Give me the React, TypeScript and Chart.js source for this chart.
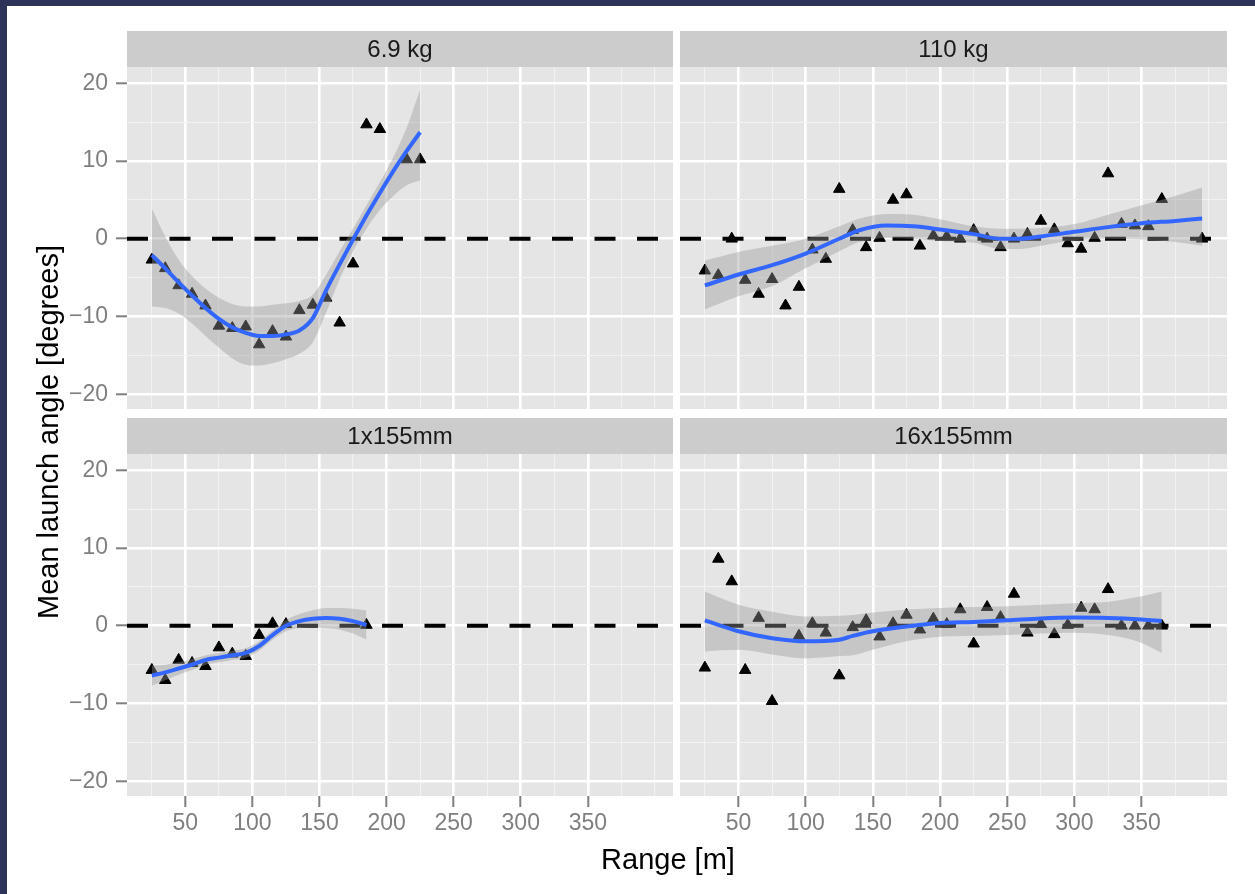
import React, { useEffect, useRef } from 'react';
import { Chart, registerables } from 'chart.js';

Chart.register(...registerables);

// ---------- axis settings ----------
const X_MIN = 6.5;
const X_MAX = 413.5;
const Y_MIN = -21.9;
const Y_MAX = 22.1;
const X_GRID = [25, 50, 75, 100, 125, 150, 175, 200, 225, 250, 275, 300, 325, 350, 375, 400];
const X_LABELED = [50, 100, 150, 200, 250, 300, 350];
const Y_GRID = [-20, -15, -10, -5, 0, 5, 10, 15, 20];
const Y_LABELED = [-20, -10, 0, 10, 20];

const X_TITLE = 'Range [m]';
const Y_TITLE = 'Mean launch angle [degrees]';
const PANEL_LABELS = ['6.9 kg', '110 kg', '1x155mm', '16x155mm'];

// ---------- 6.9 kg ----------
const X_69 = [25, 35, 45, 55, 65, 75, 85, 95, 105, 115, 125, 135, 145, 155, 165, 175, 185, 195, 215, 225];
const Y_69 = [-2.7, -3.8, -6.0, -7.1, -8.6, -11.2, -11.5, -11.3, -13.6, -11.9, -12.6, -9.2, -8.5, -7.6, -10.8, -3.2, 14.7, 14.1, 10.2, 10.2];
const FIT_X_69 = [25, 35, 45, 55, 65, 75, 85, 95, 105, 115, 125, 135, 145, 155, 165, 175, 185, 195, 205, 215, 225];
const FIT_Y_69 = [-2.1, -3.8, -5.6, -7.3, -8.9, -10.3, -11.4, -12.1, -12.5, -12.5, -12.3, -11.8, -10.2, -6.6, -3.3, -0.1, 3.0, 5.9, 8.7, 11.3, 13.7];
const HI_69 = [3.9, 0.3, -2.7, -4.8, -6.4, -7.6, -8.4, -8.7, -8.7, -8.5, -8.3, -8.0, -7.2, -4.6, -1.6, 1.3, 4.3, 7.3, 10.5, 14.3, 19.2];
const LO_69 = [-8.7, -8.9, -9.6, -10.9, -12.5, -14.0, -15.4, -16.2, -16.3, -16.0, -15.5, -14.8, -13.3, -9.5, -5.2, -1.6, 1.3, 3.7, 5.5, 6.9, 7.5];

// ---------- 110 kg ----------
const X_110 = [25, 35, 45, 55, 65, 75, 85, 95, 105, 115, 125, 135, 145, 155, 165, 175, 185, 195, 205, 215, 225, 235, 245, 255, 265, 275, 285, 295, 305, 315, 325, 335, 345, 355, 365, 395];
const Y_110 = [-4.1, -4.7, 0.0, -5.3, -7.1, -5.2, -8.6, -6.2, -1.4, -2.6, 6.4, 1.1, -1.1, 0.1, 5.0, 5.7, -0.9, 0.4, 0.3, 0.0, 1.1, 0.0, -1.1, 0.0, 0.6, 2.3, 1.2, -0.6, -1.3, 0.1, 8.4, 1.9, 1.7, 1.6, 5.1, 0.0];
const FIT_X_110 = [25, 50, 75, 100, 125, 140, 160, 180, 200, 225, 245, 260, 275, 300, 325, 350, 375, 395];
const FIT_Y_110 = [-6.0, -4.6, -3.4, -1.9, 0.0, 1.1, 1.7, 1.6, 1.2, 0.6, 0.0, 0.0, 0.3, 0.9, 1.5, 2.0, 2.3, 2.6];
const HI_110 = [-2.8, -1.7, -0.9, 0.0, 1.6, 2.6, 3.2, 3.1, 2.5, 1.6, 1.3, 1.3, 1.4, 1.9, 3.1, 4.3, 5.5, 6.6];
const LO_110 = [-9.1, -7.4, -6.1, -3.8, -1.6, -0.4, 0.1, 0.0, -0.3, -0.5, -1.3, -1.3, -0.9, -0.2, 0.0, -0.1, -0.4, -0.9];

// ---------- 1x155mm ----------
const X_1X = [25, 35, 45, 55, 65, 75, 85, 95, 105, 115, 125, 185];
const Y_1X = [-5.7, -7.0, -4.4, -4.8, -5.2, -2.8, -3.6, -3.9, -1.2, 0.3, 0.2, 0.1];
const FIT_X_1X = [25, 35, 45, 55, 65, 75, 85, 95, 105, 115, 125, 135, 145, 155, 165, 175, 185];
const FIT_Y_1X = [-6.4, -6.0, -5.5, -5.0, -4.4, -4.1, -3.8, -3.5, -2.6, -1.2, 0.0, 0.6, 0.9, 1.0, 0.9, 0.6, 0.1];
const HI_1X = [-5.1, -5.0, -4.7, -4.3, -3.8, -3.5, -3.2, -2.9, -2.0, -0.6, 0.7, 1.5, 2.0, 2.3, 2.3, 2.2, 2.0];
const LO_1X = [-7.7, -7.0, -6.3, -5.7, -5.0, -4.7, -4.4, -4.1, -3.2, -1.8, -0.7, -0.3, -0.2, -0.3, -0.5, -1.0, -1.8];

// ---------- 16x155mm ----------
const X_16X = [25, 35, 45, 55, 65, 75, 95, 105, 115, 125, 135, 145, 155, 165, 175, 185, 195, 205, 215, 225, 235, 245, 255, 265, 275, 285, 295, 305, 315, 325, 335, 345, 355, 365];
const Y_16X = [-5.4, 8.6, 5.7, -5.7, 1.0, -9.7, -1.3, 0.3, -0.9, -6.4, -0.2, 0.7, -1.4, 0.3, 1.4, -0.5, 0.9, 0.2, 2.1, -2.3, 2.4, 1.1, 4.1, -0.9, 0.2, -1.1, 0.1, 2.3, 2.1, 4.7, 0.0, 0.0, 0.0, 0.0];
const FIT_X_16X = [25, 50, 75, 100, 125, 135, 150, 175, 200, 225, 250, 275, 300, 325, 350, 365];
const FIT_Y_16X = [0.7, -0.7, -1.6, -2.0, -1.8, -1.3, -0.7, -0.1, 0.35, 0.5, 0.7, 0.95, 1.05, 1.0, 0.8, 0.6];
const HI_16X = [4.4, 2.7, 1.8, 1.2, 1.3, 1.4, 1.7, 2.1, 2.3, 2.4, 2.5, 2.7, 2.9, 3.1, 3.8, 4.4];
const LO_16X = [-3.3, -3.1, -3.7, -4.2, -3.9, -3.8, -3.1, -2.0, -1.4, -1.3, -1.2, -1.0, -0.9, -1.2, -2.2, -3.5];

// ---------- layout ----------
const W = 1255;
const H = 894;
const FONT = '"Liberation Sans", Arial, Helvetica, sans-serif';

type Panel = {
  label: string;
  left: number; right: number; top: number; bottom: number;
  showX: boolean; showY: boolean; titles: boolean;
  px: number[]; py: number[]; fx: number[]; fy: number[]; hi: number[]; lo: number[];
};

const PANELS: Panel[] = [
  { label: PANEL_LABELS[0], left: 127, right: 673, top: 67, bottom: 409, showX: false, showY: true, titles: true,
    px: X_69, py: Y_69, fx: FIT_X_69, fy: FIT_Y_69, hi: HI_69, lo: LO_69 },
  { label: PANEL_LABELS[1], left: 680, right: 1227, top: 67, bottom: 409, showX: false, showY: false, titles: false,
    px: X_110, py: Y_110, fx: FIT_X_110, fy: FIT_Y_110, hi: HI_110, lo: LO_110 },
  { label: PANEL_LABELS[2], left: 127, right: 673, top: 454, bottom: 796, showX: true, showY: true, titles: false,
    px: X_1X, py: Y_1X, fx: FIT_X_1X, fy: FIT_Y_1X, hi: HI_1X, lo: LO_1X },
  { label: PANEL_LABELS[3], left: 680, right: 1227, top: 454, bottom: 796, showX: true, showY: false, titles: false,
    px: X_16X, py: Y_16X, fx: FIT_X_16X, fy: FIT_Y_16X, hi: HI_16X, lo: LO_16X },
];

const facetPlugin = {
  id: 'facet',
  beforeDraw(chart: any, _args: any, opts: any) {
    const { ctx, chartArea: a } = chart;
    ctx.save();
    ctx.fillStyle = '#e5e5e5';
    ctx.fillRect(a.left, a.top, a.right - a.left, a.bottom - a.top);
    const sh = 36;
    ctx.fillStyle = '#cccccc';
    ctx.fillRect(a.left, a.top - sh, a.right - a.left, sh);
    ctx.fillStyle = '#1a1a1a';
    ctx.font = `24px ${FONT}`;
    ctx.textAlign = 'center';
    ctx.textBaseline = 'middle';
    ctx.fillText(opts.label, (a.left + a.right) / 2, a.top - sh / 2 + 1);
    if (opts.titles) {
      ctx.fillStyle = '#000000';
      ctx.font = `29px ${FONT}`;
      ctx.textBaseline = 'alphabetic';
      ctx.fillText(X_TITLE, 668, 869);
      ctx.translate(58, 432);
      ctx.rotate(-Math.PI / 2);
      ctx.fillText(Y_TITLE, 0, 0);
    }
    ctx.restore();
  },
};

const toXY = (xs: number[], ys: number[]) => xs.map((x, i) => ({ x, y: ys[i] }));

function buildConfig(p: Panel): any {
  const yw = p.showY ? 60 : 0;
  const xh = p.showX ? 50 : 0;
  const clear = 'rgba(0,0,0,0)';
  return {
    type: 'line',
    data: {
      datasets: [
        {
          label: 'fit', data: toXY(p.fx, p.fy), showLine: true, borderColor: '#3366ff', borderWidth: 4,
          pointRadius: 0, fill: false, cubicInterpolationMode: 'monotone', order: 0,
        },
        {
          label: 'upper', data: toXY(p.fx, p.hi), showLine: true, borderColor: clear, borderWidth: 0,
          pointRadius: 0, fill: false, cubicInterpolationMode: 'monotone', order: 1,
        },
        {
          label: 'lower', data: toXY(p.fx, p.lo), showLine: true, borderColor: clear, borderWidth: 0,
          pointRadius: 0, fill: '-1', backgroundColor: 'rgba(153,153,153,0.4)', cubicInterpolationMode: 'monotone', order: 1,
        },
        {
          label: 'points', data: toXY(p.px, p.py), showLine: false, pointStyle: 'triangle', pointRadius: 6.6,
          pointBackgroundColor: '#000000', pointBorderColor: '#000000', pointBorderWidth: 1, order: 2,
        },
        {
          label: 'zero', data: toXY([X_MIN, X_MAX], [0, 0]), showLine: true, borderColor: '#000000', borderWidth: 4,
          borderDash: [21, 21.5], pointRadius: 0, fill: false, order: 3,
        },
      ],
    },
    options: {
      animation: false,
      responsive: false,
      devicePixelRatio: 1,
      events: [],
      layout: {
        padding: { left: p.left - yw, right: W - p.right, top: p.top, bottom: H - p.bottom - xh },
      },
      plugins: {
        legend: { display: false },
        tooltip: { enabled: false },
        title: { display: false },
        facet: { label: p.label, titles: p.titles },
      },
      scales: {
        x: {
          type: 'linear', min: X_MIN, max: X_MAX,
          afterBuildTicks: (s: any) => { s.ticks = X_GRID.map((v) => ({ value: v })); },
          afterFit: (s: any) => { s.height = xh; },
          border: { display: false },
          grid: {
            color: (c: any) => (c.tick && X_LABELED.includes(c.tick.value) ? '#ffffff' : '#f2f2f2'),
            lineWidth: (c: any) => (c.tick && X_LABELED.includes(c.tick.value) ? 2.6 : 1.1),
            drawTicks: p.showX, tickLength: 11, tickWidth: 2,
            tickColor: (c: any) => (c.tick && X_LABELED.includes(c.tick.value) ? '#7f7f7f' : clear),
          },
          ticks: {
            display: p.showX, autoSkip: false, maxRotation: 0, padding: 3, color: '#7f7f7f',
            font: { family: FONT, size: 23 },
            callback: (v: number) => (X_LABELED.includes(v) ? String(v) : ''),
          },
        },
        y: {
          type: 'linear', min: Y_MIN, max: Y_MAX,
          afterBuildTicks: (s: any) => { s.ticks = Y_GRID.map((v) => ({ value: v })); },
          afterFit: (s: any) => { s.width = yw; },
          border: { display: false },
          grid: {
            color: (c: any) => (c.tick && Y_LABELED.includes(c.tick.value) ? '#ffffff' : '#f2f2f2'),
            lineWidth: (c: any) => (c.tick && Y_LABELED.includes(c.tick.value) ? 2.6 : 1.1),
            drawTicks: p.showY, tickLength: 11, tickWidth: 2,
            tickColor: (c: any) => (c.tick && Y_LABELED.includes(c.tick.value) ? '#7f7f7f' : clear),
          },
          ticks: {
            display: p.showY, autoSkip: false, padding: 8, color: '#7f7f7f',
            font: { family: FONT, size: 23 },
            callback: (v: number) => (Y_LABELED.includes(v) ? String(v).replace('-', '\u2212') : ''),
          },
        },
      },
    },
    plugins: [facetPlugin],
  };
}

function PanelChart({ panel }: { panel: Panel }) {
  const ref = useRef<HTMLCanvasElement | null>(null);
  useEffect(() => {
    if (!ref.current) return;
    const chart = new Chart(ref.current, buildConfig(panel));
    return () => chart.destroy();
  }, [panel]);
  return (
    <canvas
      ref={ref}
      width={W}
      height={H}
      style={{ position: 'absolute', left: 0, top: 0, width: W, height: H }}
    />
  );
}

export default function App() {
  return (
    <div style={{ position: 'absolute', left: 0, top: 0, width: W, height: H, background: '#2d3359', overflow: 'hidden' }}>
      <div style={{ position: 'absolute', left: 7, top: 6, right: 0, bottom: 0, background: '#ffffff' }} />
      {PANELS.map((p) => (
        <PanelChart key={p.label} panel={p} />
      ))}
    </div>
  );
}
